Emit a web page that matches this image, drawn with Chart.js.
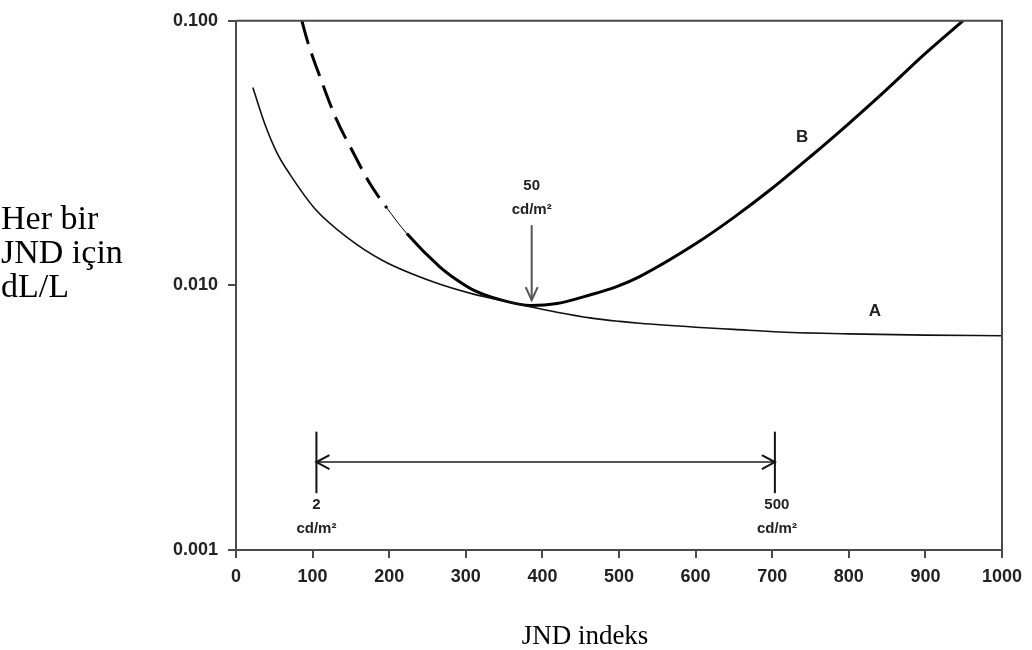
<!DOCTYPE html>
<html><head><meta charset="utf-8">
<script src="https://cdn.jsdelivr.net/npm/chart.js@4.4.0/dist/chart.umd.min.js"></script>
<style>html,body{margin:0;padding:0;background:#fff;}#wrap{width:1032px;height:650px;}</style>
</head><body><div id="wrap"><canvas id="c" width="1032" height="650"></canvas></div>
<script>
// ---- data ----
const curveA_x = [22, 38, 54, 70, 103, 145, 192, 258, 310, 350, 384, 419, 462, 501, 527, 600, 650, 710, 800, 900, 1000];
const curveA_y = [0.056, 0.0405, 0.0315, 0.0264, 0.0195, 0.0152, 0.0124, 0.0103, 0.00927, 0.00873, 0.0083, 0.00792, 0.00754, 0.00731, 0.00719, 0.00695, 0.00682, 0.00667, 0.00656, 0.00649, 0.00645];
const curveB_x = [86, 94, 110, 131, 153, 175, 197, 223, 266, 288, 310, 353, 384, 419, 462, 497, 527, 600, 650, 700, 750, 800, 850, 900, 949];
const curveB_y = [0.1, 0.0826, 0.061, 0.0425, 0.0318, 0.0242, 0.0196, 0.0157, 0.01175, 0.0105, 0.0096, 0.0087, 0.0084, 0.00854, 0.0092, 0.0099, 0.0108, 0.01436, 0.01807, 0.02328, 0.0307, 0.0409, 0.0552, 0.0753, 0.1];
const curveB_dashedBefore = 197;   // B is dashed for JND index below this
const curveB_thinBefore = 223;     // short thin stretch before the solid part
const xTickValues = [0, 100, 200, 300, 400, 500, 600, 700, 800, 900, 1000];
const yTickValues = [0.001, 0.01, 0.1];
const yTickLabels = ['0.001', '0.010', '0.100'];
const curveNames = ['A', 'B'];
const curveNameX = [834, 739];
const curveNameY = [0.00795, 0.0362];
// annotation: minimum of B (50 cd/m2)
const minArrowX = 386, minArrowFrom = 0.0169, minArrowTo = 0.0088;
const minLabel = ['50', 'cd/m²'], minLabelY = [0.0237, 0.01925];
// annotation: range 2 .. 500 cd/m2
const rangeX = [105, 703.5], rangeY = 0.00215, rangeTickTop = 0.0028, rangeTickBottom = 0.00164;
const rangeLabels = [['2', 'cd/m²'], ['500', 'cd/m²']], rangeLabelY = [0.001477, 0.0012];
const yTitleLines = ['Her bir', 'JND için', 'dL/L'];
const xTitle = 'JND indeks';

const toPts = (xs, ys) => xs.map((x, i) => ({x, y: ys[i]}));
const AX = '#4a4a4a';

const annot = {
  id: 'annot',
  afterDatasetsDraw(chart) {
    const {ctx, chartArea: ca, scales: {x, y}} = chart;
    ctx.save();
    // top and right frame
    ctx.strokeStyle = AX; ctx.lineWidth = 2;
    ctx.beginPath();
    ctx.moveTo(ca.left, ca.top); ctx.lineTo(ca.right, ca.top); ctx.lineTo(ca.right, ca.bottom);
    ctx.stroke();
    // minimum arrow
    const mx = x.getPixelForValue(minArrowX);
    const m1 = y.getPixelForValue(minArrowFrom), m2 = y.getPixelForValue(minArrowTo);
    ctx.strokeStyle = '#555'; ctx.lineWidth = 2;
    ctx.beginPath(); ctx.moveTo(mx, m1); ctx.lineTo(mx, m2); ctx.stroke();
    ctx.beginPath(); ctx.moveTo(mx - 6, m2 - 13); ctx.lineTo(mx, m2); ctx.lineTo(mx + 6, m2 - 13); ctx.stroke();
    // range arrow
    const r1 = x.getPixelForValue(rangeX[0]), r2 = x.getPixelForValue(rangeX[1]);
    const ry = y.getPixelForValue(rangeY);
    ctx.beginPath(); ctx.moveTo(r1, ry); ctx.lineTo(r2, ry); ctx.stroke();
    ctx.strokeStyle = '#111';
    ctx.beginPath(); ctx.moveTo(r1 + 13, ry - 7); ctx.lineTo(r1, ry); ctx.lineTo(r1 + 13, ry + 7); ctx.stroke();
    ctx.beginPath(); ctx.moveTo(r2 - 13, ry - 7); ctx.lineTo(r2, ry); ctx.lineTo(r2 - 13, ry + 7); ctx.stroke();
    const t1 = y.getPixelForValue(rangeTickTop), t2 = y.getPixelForValue(rangeTickBottom);
    [r1, r2].forEach(px => { ctx.beginPath(); ctx.moveTo(px, t1); ctx.lineTo(px, t2); ctx.stroke(); });
    // small labels
    ctx.fillStyle = '#222'; ctx.font = 'bold 15px "Liberation Sans", Arial, sans-serif';
    ctx.textAlign = 'center'; ctx.textBaseline = 'middle';
    minLabel.forEach((t, i) => ctx.fillText(t, mx, y.getPixelForValue(minLabelY[i])));
    rangeLabels.forEach((pair, j) => pair.forEach((t, i) =>
      ctx.fillText(t, x.getPixelForValue(rangeX[j]) + (j ? 2 : 0), y.getPixelForValue(rangeLabelY[i]))));
    // curve names
    ctx.font = 'bold 17px "Liberation Sans", Arial, sans-serif';
    curveNames.forEach((t, i) => ctx.fillText(t, x.getPixelForValue(curveNameX[i]), y.getPixelForValue(curveNameY[i])));
    // titles
    ctx.fillStyle = '#000';
    ctx.font = '34px "Liberation Serif", "Times New Roman", serif';
    ctx.textAlign = 'left'; ctx.textBaseline = 'alphabetic';
    yTitleLines.forEach((t, i) => ctx.fillText(t, 1, 229 + i * 34));
    ctx.font = '27px "Liberation Serif", "Times New Roman", serif';
    ctx.textAlign = 'center';
    ctx.fillText(xTitle, 585, 644);
    ctx.restore();
  }
};

new Chart(document.getElementById('c'), {
  type: 'line',
  data: {
    datasets: [
      { label: 'A', data: toPts(curveA_x, curveA_y), borderColor: '#111', borderWidth: 1.6,
        pointRadius: 0, cubicInterpolationMode: 'monotone', fill: false },
      { label: 'B', data: toPts(curveB_x, curveB_y), borderColor: '#000', borderWidth: 3,
        pointRadius: 0, cubicInterpolationMode: 'monotone', fill: false,
        segment: {
          borderDash: c => c.p0.parsed.x < curveB_dashedBefore ? [24, 10] : [],
          borderWidth: c => (c.p0.parsed.x >= curveB_dashedBefore && c.p0.parsed.x < curveB_thinBefore) ? 1 : 3
        } }
    ]
  },
  options: {
    responsive: false, animation: false, devicePixelRatio: 1,
    layout: { padding: { top: 18, right: 30, left: 0, bottom: 0 } },
    plugins: { legend: { display: false }, tooltip: { enabled: false } },
    scales: {
      x: {
        type: 'linear', min: 0, max: 1000,
        afterBuildTicks: s => { s.ticks = xTickValues.map(v => ({value: v})); },
        afterFit: s => { s.height = 100; },
        ticks: { color: '#222', padding: 8, maxRotation: 0, autoSkip: false,
          font: { family: '"Liberation Sans", Arial, sans-serif', size: 18, weight: 'bold' },
          callback: v => String(v) },
        grid: { drawOnChartArea: false, drawTicks: true, tickLength: 8, color: AX, lineWidth: 2 },
        border: { display: true, color: AX, width: 2 }
      },
      y: {
        type: 'logarithmic', min: 0.001, max: 0.1,
        afterBuildTicks: s => { s.ticks = yTickValues.map(v => ({value: v})); },
        afterFit: s => { s.width = 236; },
        ticks: { color: '#222', padding: 10, autoSkip: false,
          font: { family: '"Liberation Sans", Arial, sans-serif', size: 18, weight: 'bold' },
          callback: v => yTickLabels[yTickValues.indexOf(v)] ?? '' },
        grid: { drawOnChartArea: false, drawTicks: true, tickLength: 8, color: AX, lineWidth: 2 },
        border: { display: true, color: AX, width: 2 }
      }
    }
  },
  plugins: [annot]
});
</script></body></html>
